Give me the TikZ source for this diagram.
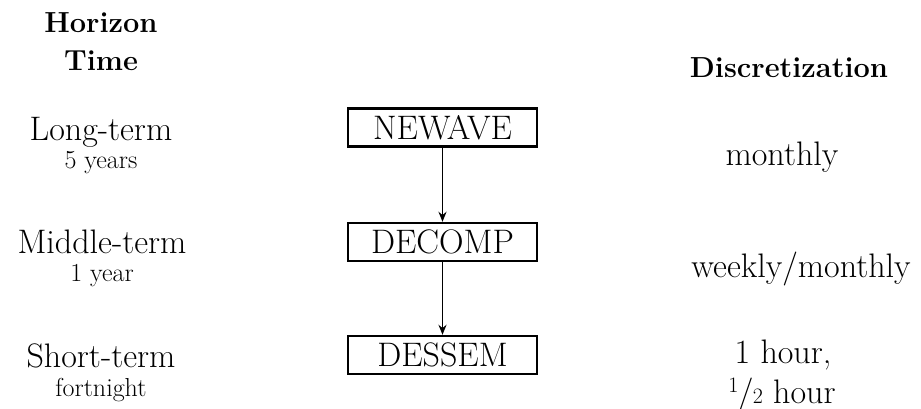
\documentclass[tikz,border=0pt]{standalone}
\usetikzlibrary{arrows.meta}
\begin{document}
\begin{tikzpicture}[x=1pt,y=-1pt,
  big/.style={font=\fontsize{34}{40}\selectfont, inner sep=0pt, anchor=base},
  small/.style={font=\fontsize{26}{31}\selectfont, inner sep=0pt, anchor=base},
  head/.style={font=\fontsize{29}{35}\selectfont\bfseries, inner sep=0pt, anchor=base},
  model/.style={draw, line width=2.4pt, minimum width=189pt, minimum height=38pt, inner sep=0pt, font=\fontsize{34}{40}\selectfont},
  flow/.style={-{Stealth[length=10pt,width=8pt]}, line width=1.9pt}]
\useasboundingbox (0,0) rectangle (921,408);
\node[head] (h1) at (101,32) {Horizon};
\node[head] (h2) at (101,70) {Time};
\node[head] (h3) at (789,77) {Discretization};
\node[big] (l1) at (101,140) {Long-term};
\node[small] (l2) at (101,168) {5 years};
\node[big] (m1) at (102,253) {Middle-term};
\node[small] (m2) at (102,281) {1 year};
\node[big] (s1) at (101,367) {Short-term};
\node[small] (s2) at (101,396) {fortnight};
\node[model] (newave) at (442.5,127.5) {NEWAVE};
\node[model] (decomp) at (442.5,242) {DECOMP};
\node[model] (dessem) at (442.5,355) {DESSEM};
\draw[flow] (newave) -- (decomp);
\draw[flow] (decomp) -- (dessem);
\node[big] (r1) at (782,165) {monthly};
\node[big] (r2) at (801,277) {weekly/monthly};
\node[big] (r3) at (783,363) {1 hour,};
\node[big] (r4) at (782,403) {\raisebox{0.3em}{\fontsize{22}{26}\selectfont 1}\kern-0.02em/\kern-0.02em{\fontsize{22}{26}\selectfont 2}\ hour};
\end{tikzpicture}
\end{document}
